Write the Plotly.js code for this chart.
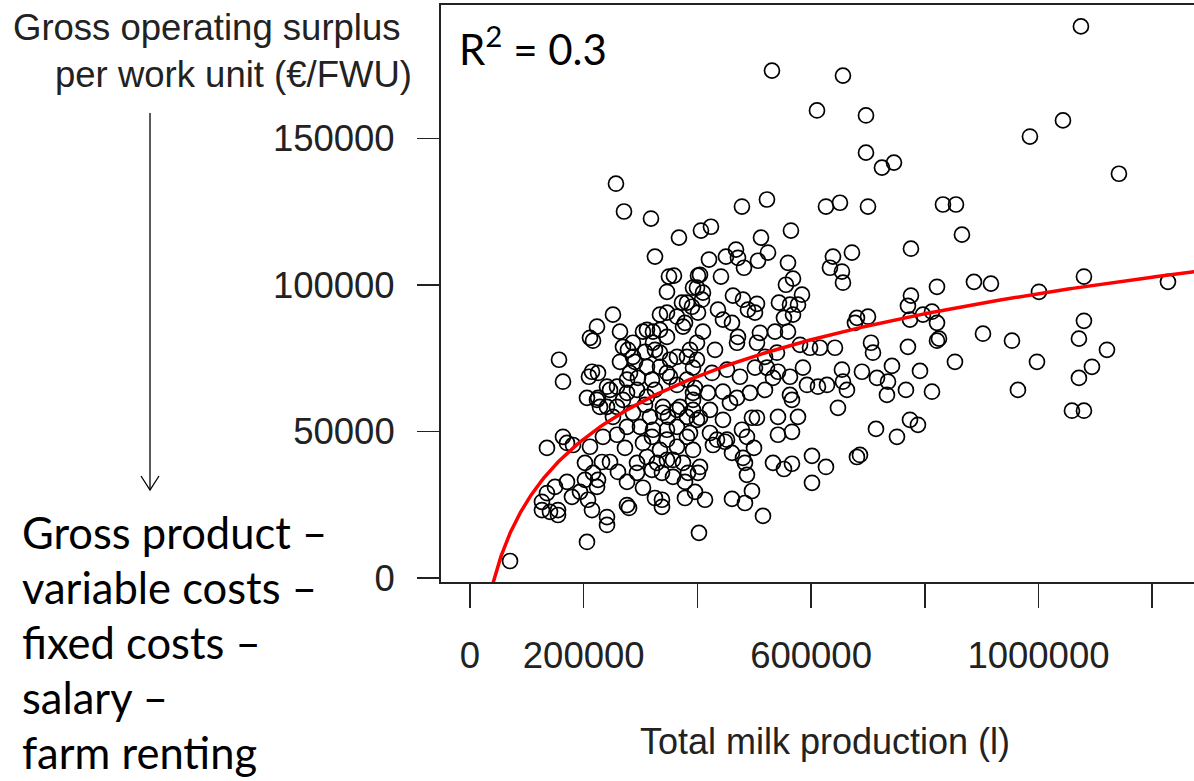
<!DOCTYPE html>
<html>
<head>
<meta charset="utf-8">
<script src="https://cdn.plot.ly/plotly-3.0.1.min.js"></script>
<style>
  html, body { margin: 0; padding: 0; overflow: hidden; background: #fff; }
  #chart { width: 1220px; height: 781px; }
</style>
</head>
<body>
<div id="chart"></div>
<script>
// Farms: total milk production (litres) and gross operating surplus per family work unit (EUR/FWU)
const milkLitres = [
  1074700, 531200, 656100, 610400, 696600, 1043100, 985000, 696600, 745800, 724700, 1141600, 256800,
  270900, 318400, 367600, 406300, 423900, 478400, 522400, 626200, 650800, 700100, 832000, 854900,
  865400, 775700, 511900, 564600, 638500, 671900, 633200, 654300, 656100, 821500, 886500, 916400,
  1080000, 1227800, 1000900, 775700, 770400, 812700, 796800, 700100, 1080000, 774000, 821500,
  821500, 825000, 705400, 708900, 770400, 902400, 953400, 1071200, 1120500, 853100, 997400, 1094100,
  1071200, 689500, 742300, 791600, 715900, 735300, 733500, 766900, 812700, 963900, 1058900, 1080000,
  774000, 788000, 714200, 751100, 686000,
  325400, 358800, 350000, 401100, 346500, 372900, 381700, 399300, 251500, 334200, 346500, 401100,
  450300, 467900, 471400, 420400, 524200, 506600, 482000, 559400, 404600, 441500, 568200, 555800,
  584000, 577000, 543500, 462600, 436200, 480200, 680700, 392300, 409800, 408100, 390500, 489000,
  504800, 501300, 562900,
  223400, 263900, 211100, 216400, 156600, 163600, 214600, 225200, 209300, 205800, 225200, 228700,
  246300, 263900, 277900, 290200, 281400, 276200, 295500, 304300, 321900, 334200, 325400, 307800,
  346500, 374700, 364100, 381700, 399300, 320100, 325400, 346500, 364100, 392300, 392300, 258600,
  269100, 286700, 307800, 316600, 339500, 348300, 369400, 381700, 392300, 163600, 364100, 378200,
  321900, 334200, 351800, 387000, 269100, 286700, 286700, 311300, 334200, 351800, 381700, 392300,
  364100, 339500, 311300, 293800, 276200, 258600, 241000, 223400, 241000, 251500, 276200, 299000,
  321900, 346500, 364100, 387000, 399300, 311300,
  409800, 445000, 460900, 471400, 510100, 536500, 559400, 568200, 552300, 677200, 431000, 469700,
  504800, 518900, 540000, 580500, 598100, 615700, 642000, 399300, 425700, 452100, 474900, 501300,
  522400, 541800, 533000, 562900, 585700, 654300, 656100, 663100, 628000, 612100, 592800, 562900,
  518900, 492500, 469700, 445000, 418600, 395800, 566400, 647300, 496000, 504800, 541800, 577000,
  457300, 422200, 445000, 404600, 478400,
  70400, 205800, 135400, 170600, 181200, 170600, 149500, 135400, 126600, 126600, 140700, 154800,
  154800, 179400, 193500, 207600, 214600, 223400, 202300, 225200, 241000, 241000, 279700, 276200,
  202300, 216400, 232200, 246300, 260300, 276200, 304300, 325400, 337700, 293800, 272600, 211100,
  233900, 258600, 304300, 320100, 334200, 311300, 328900, 346500, 337700, 320100, 293800,
  487200, 541800, 566400, 499600, 460900, 448500, 480200, 483700, 487200, 533000, 552300, 566400,
  601600, 626200, 680700, 601600, 496000, 460900, 483700, 515400, 402800, 413400, 378200, 395800,
  357100, 378200, 383500, 404600, 401100, 337700, 434500, 452100, 346500, 364100, 381700, 392300,
  357100, 374700, 422200, 427400
];
const surplusPerFWU = [
  188300, 173200, 171500, 159600, 157900, 156200, 150700, 145200, 141800, 140100, 138000, 134600,
  125100, 122700, 116200, 118600, 119900, 126800, 129200, 126800, 128100, 126800, 127500, 127500,
  117200, 112400, 116200, 118600, 109700, 111100, 105900, 104600, 100800, 99400, 101100, 100500,
  102900, 101100, 97700, 96400, 92900, 90900, 89900, 89200, 87800, 88200, 87100,
  81000, 81700, 80300, 76900, 78900, 83400, 81000, 81700, 77900, 73800, 73800, 72100,
  68300, 70400, 72400, 70700, 68300, 67000, 62500, 64200, 63600, 64200, 57100, 57100,
  54000, 52300, 50900, 48200, 42000,
  109700, 103200, 102900, 103200, 97700, 94000, 94000, 99100, 89900, 89900, 90600, 90600,
  109700, 112100, 109300, 108700, 111100, 108300, 105900, 107600, 103500, 102900, 102200, 100100,
  96700, 93300, 94000, 96400, 91600, 95000, 88800, 99100, 97400, 95000, 92600, 91600,
  93600, 90600, 93300,
  85800, 84100, 82000, 81000, 74500, 67000, 70400, 70000, 68700, 61500, 61500, 58400,
  64200, 73800, 77900, 73800, 70000, 67700, 68300, 84100, 84100, 84700, 77900, 77200,
  82300, 85800, 75500, 75500, 80300, 67700, 64200, 70000, 65900, 71800, 63200, 58400,
  60800, 56400, 59100, 55000, 58400, 55000, 58400, 55000, 57400, 48200, 89200, 87100,
  80300, 76900, 74500, 77900, 78900, 80300, 75500, 72100, 72100, 68700, 67700, 60800,
  57400, 56400, 61800, 64200, 63200, 65300, 65300, 60800, 58400, 55000, 51600, 51600,
  50600, 50600, 51600, 49500, 54000, 84700,
  84100, 88200, 87100, 82300, 83700, 84100, 84100, 89900, 88800, 87100, 77900, 80300,
  80300, 75500, 76900, 79600, 78600, 78600, 78600, 74500, 70000, 71100, 68700, 71800,
  71800, 70400, 68300, 68700, 71800, 71100, 67000, 64200, 65900, 65300, 65900, 62500,
  64200, 63200, 61500, 63600, 63200, 64900, 60800, 58100, 54700, 54700, 55000, 55000,
  59800, 57400, 54000, 54700, 50600,
  5800, 12300, 44400, 46100, 45400, 32800, 31100, 29000, 26000, 23200, 22600, 21500,
  23200, 27700, 29400, 26700, 23200, 31100, 33500, 33500, 20800, 18100, 23900, 24900,
  39300, 35900, 39600, 39600, 36200, 32800, 30800, 27300, 24300, 39300, 44400, 44800,
  48200, 48900, 46100, 48200, 43700, 41300, 39300, 40300, 35900, 36900, 35900,
  48200, 48900, 49900, 44400, 42700, 46500, 41000, 39300, 35200, 39300, 37200, 39000,
  41700, 37900, 41300, 32500, 29700, 27000, 25600, 21200, 15400, 26700, 27300, 29400,
  34500, 32800, 35900, 37900, 35900, 26700, 47200, 47200, 47200, 44800, 48200, 43700,
  40300, 39300, 49500, 45400
];

const xTickValues = [0, 200000, 400000, 600000, 800000, 1000000, 1200000];
const xTickLabels = ['0', '200000', ' ', '600000', ' ', '1000000', ' '];
const yTickValues = [0, 50000, 100000, 150000];
const yTickLabels = ['0', '50000', '100000', '150000'];

// Logarithmic model: surplus = a + b * ln(milk)
const fitIntercept = -329000;
const fitSlope = 30840;
const rSquared = 0.3;

const yTitleLines = ['Gross operating surplus', 'per work unit (€/FWU)'];
const surplusDefinition = ['Gross product –', 'variable costs –', 'fixed costs –', 'salary –', 'farm renting'];

// model curve evaluated along the x axis
const curveX = [], curveY = [];
for (let x = 30000; x <= 1300000; x += (x < 120000 ? 1000 : 5000)) {
  curveX.push(x);
  curveY.push(fitIntercept + fitSlope * Math.log(x));
}

// plot-area geometry, used to place free text in paper units
const W = 1220, H = 781;
const M = { l: 441, r: 11, t: 5, b: 199 };
const pw = W - M.l - M.r, ph = H - M.t - M.b;
const px = v => (v - M.l) / pw;
const py = v => (H - M.b - v) / ph;

const ink = '#222';
const axisFont = 'Liberation Sans, Arial, sans-serif';
const noteFont = 'Lato, sans-serif';

const annotations = [
  { text: yTitleLines[0], x: px(11), y: py(28), xanchor: 'left', yanchor: 'middle' },
  { text: yTitleLines[1], x: px(53), y: py(74), xanchor: 'left', yanchor: 'middle' }
].map(a => Object.assign(a, { xref: 'paper', yref: 'paper', showarrow: false,
  font: { family: axisFont, size: 36.5, color: ink } }));

annotations.push({
  text: 'R<sup>2</sup> = ' + rSquared, x: px(457), y: py(46), xanchor: 'left', yanchor: 'middle',
  xref: 'paper', yref: 'paper', showarrow: false,
  font: { family: noteFont, size: 42, color: '#000' }
});

surplusDefinition.forEach((line, i) => {
  annotations.push({
    text: line, x: px(20), y: py(532 + i * 55), xanchor: 'left', yanchor: 'middle',
    xref: 'paper', yref: 'paper', showarrow: false,
    font: { family: noteFont, size: 43.5, color: '#000' }
  });
});

const shapes = [
  { type: 'line', xref: 'paper', yref: 'paper', x0: px(150), x1: px(150), y0: py(113), y1: py(490),
    line: { color: '#000', width: 1.3 } },
  { type: 'path', xref: 'paper', yref: 'paper',
    path: `M ${px(141)},${py(476)} L ${px(150)},${py(490)} L ${px(159)},${py(476)}`,
    line: { color: '#000', width: 1.3 } }
];

const traces = [
  {
    type: 'scatter', mode: 'markers', x: milkLitres, y: surplusPerFWU,
    marker: { symbol: 'circle-open', size: 15, color: '#000', line: { width: 1.7, color: '#000' } },
    hoverinfo: 'x+y'
  },
  {
    type: 'scatter', mode: 'lines', x: curveX, y: curveY,
    line: { color: '#ff0000', width: 3.5 }, hoverinfo: 'skip'
  }
];

const layout = {
  width: W, height: H, margin: M,
  paper_bgcolor: '#fff', plot_bgcolor: '#fff', showlegend: false,
  font: { family: axisFont, size: 36, color: ink },
  xaxis: {
    range: [-51000, 1300000], tickmode: 'array', tickvals: xTickValues, ticktext: xTickLabels,
    ticks: 'outside', ticklen: 24, tickwidth: 1.5, tickcolor: ink, ticklabelstandoff: 16,
    tickfont: { family: axisFont, size: 36.5, color: ink },
    showgrid: false, zeroline: false, showline: true, mirror: true, linecolor: ink, linewidth: 2,
    title: { text: 'Total milk production (l)', font: { family: axisFont, size: 36, color: ink }, standoff: 54 },
    automargin: false, fixedrange: true
  },
  yaxis: {
    range: [-1370, 195600], tickmode: 'array', tickvals: yTickValues, ticktext: yTickLabels,
    ticks: 'outside', ticklen: 22, tickwidth: 1.5, tickcolor: ink, ticklabelstandoff: 15,
    tickfont: { family: axisFont, size: 36.5, color: ink },
    showgrid: false, zeroline: false, showline: true, mirror: true, linecolor: ink, linewidth: 2,
    automargin: false, fixedrange: true
  },
  annotations: annotations,
  shapes: shapes
};

Plotly.newPlot('chart', traces, layout, { displayModeBar: false, staticPlot: true });
</script>
</body>
</html>
